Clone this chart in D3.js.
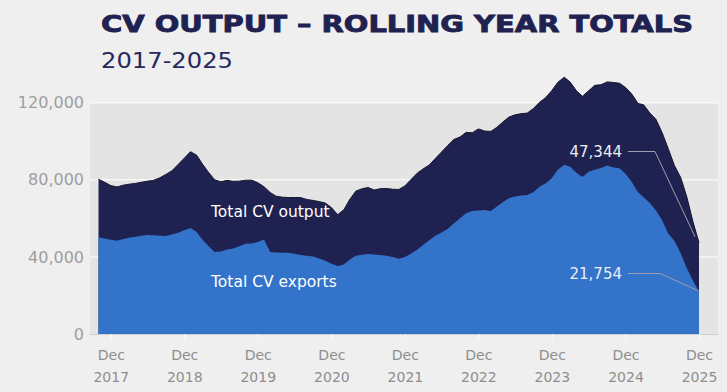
<!DOCTYPE html>
<html>
<head>
<meta charset="utf-8">
<script src="https://cdn.jsdelivr.net/npm/d3@7"></script>
<style>
  body { margin: 0; background: #efefef; }
  svg { display: block; }
</style>
</head>
<body>
<svg></svg>
<script>
// monthly rolling-year totals, Oct 2017 .. Dec 2025
const startMonth = new Date(2017, 9, 1)
const endMonth = new Date(2025, 11, 1)

const totalOutput = [
  80300, 78700, 77000, 76300, 77200, 77700, 78100, 78700, 79300, 79700,
  81000, 82800, 84700, 88000, 91200, 94600, 92700, 88200, 83800, 80000,
  79000, 79700, 79200, 79300, 79800, 79800, 78500, 76400, 73400, 71500,
  71000, 70800, 70800, 70800, 69800, 69300, 68700, 67900, 65600, 61900,
  64500, 69600, 74100, 75300, 76000, 74700, 75400, 75500, 75100, 75000,
  76800, 80200, 83500, 85600, 87700, 91000, 94400, 97700, 100900, 102200,
  104600, 104400, 106400, 105300, 105100, 107100, 109900, 112500, 113700, 114300,
  114600, 117000, 120200, 122700, 126300, 130700, 133200, 130700, 126200, 123300,
  126200, 129000, 129300, 130800, 130500, 130100, 127900, 124500, 119600, 118900,
  114600, 111400, 104400, 96200, 87400, 81200, 71300, 58200, 47344
]

const cvExports = [
  50200, 49500, 48900, 48400, 49300, 50000, 50500, 51000, 51300, 51200,
  51000, 50800, 51600, 52500, 53800, 55000, 52900, 49000, 45500, 42600,
  42800, 43800, 44400, 45500, 46800, 47000, 47700, 49000, 42600, 42300,
  42200, 42200, 41600, 41000, 40600, 40200, 39200, 38000, 36500, 35300,
  36000, 38500, 40600, 41100, 41500, 41200, 41000, 40600, 39900, 39100,
  39900, 41700, 43900, 46200, 48600, 51000, 52700, 54500, 57300, 60100,
  62600, 63800, 64100, 64300, 63800, 66000, 68300, 70400, 71400, 71800,
  72100, 73700, 76400, 78200, 80900, 85300, 87800, 86800, 83700, 81500,
  84200, 85200, 86100, 87400, 86400, 86000, 83100, 78800, 73500, 71000,
  67900, 64100, 59000, 52200, 48200, 41900, 34300, 27700, 21754
]

const yTicks = [0, 40000, 80000, 120000]
const tickYears = [2017, 2018, 2019, 2020, 2021, 2022, 2023, 2024, 2025]

const width = 727
const height = 392
const plot = {left: 90, right: 718, top: 102, bottom: 334}

const svg = d3.select('svg').attr('width', width).attr('height', height)

const months = d3.timeMonth.range(startMonth, d3.timeMonth.offset(endMonth, 1))
const rows = months.map((d, i) => ({date: d, output: totalOutput[i], exports: cvExports[i]}))

const x = d3.scaleTime().domain([startMonth, endMonth]).range([98.5, 699])
const y = d3.scaleLinear().domain([0, 120000]).range([plot.bottom, plot.top + 0.7])

// titles
svg.append('text')
  .attr('x', 101).attr('y', 32)
  .attr('font-family', 'DejaVu Sans').attr('font-weight', 900).attr('font-size', 23.5)
  .attr('fill', '#1f2250').attr('stroke', '#1f2250').attr('stroke-width', 0.9)
  .attr('textLength', 592).attr('lengthAdjust', 'spacingAndGlyphs')
  .text('CV OUTPUT – ROLLING YEAR TOTALS')

svg.append('text')
  .attr('x', 101).attr('y', 68)
  .attr('font-family', 'DejaVu Sans').attr('font-size', 21)
  .attr('fill', '#262a5c')
  .attr('textLength', 132).attr('lengthAdjust', 'spacingAndGlyphs')
  .text('2017-2025')

// plot background + grid
svg.append('rect')
  .attr('x', plot.left).attr('y', y(120000))
  .attr('width', plot.right - plot.left).attr('height', y(0) - y(120000))
  .attr('fill', '#e4e4e4')

svg.append('g').selectAll('line').data(yTicks.filter(d => d > 0)).enter().append('line')
  .attr('x1', plot.left).attr('x2', plot.right)
  .attr('y1', d => y(d)).attr('y2', d => y(d))
  .attr('stroke', '#f7f7f7').attr('stroke-width', 1.5)

// areas
const areaOut = d3.area().x(d => x(d.date)).y0(y(0)).y1(d => y(d.output))
const areaExp = d3.area().x(d => x(d.date)).y0(y(0)).y1(d => y(d.exports))

svg.append('path').datum(rows).attr('d', areaOut).attr('fill', '#1f2250')
svg.append('path').datum(rows)
  .attr('d', d3.line().x(d => x(d.date)).y(d => y(d.output)))
  .attr('fill', 'none').attr('stroke', '#15162e').attr('stroke-width', 1)
svg.append('path').datum(rows).attr('d', areaExp).attr('fill', '#3373c9')

// y axis
const yAxis = svg.append('g')
  .attr('transform', `translate(${plot.left},0)`)
  .call(d3.axisLeft(y).tickValues(yTicks).tickFormat(d3.format(',')).tickSize(0).tickPadding(6))
yAxis.select('.domain').remove()
yAxis.selectAll('text')
  .attr('font-family', 'DejaVu Sans').attr('font-size', 16).attr('fill', '#9e9e9e')

// x axis
svg.append('line')
  .attr('x1', plot.left).attr('x2', plot.right)
  .attr('y1', y(0) + 0.5).attr('y2', y(0) + 0.5)
  .attr('stroke', '#cfcfcf')

const xAxis = svg.append('g')
  .attr('transform', `translate(0,${y(0)})`)
  .call(d3.axisBottom(x).tickValues(tickYears.map(yr => new Date(yr, 11, 1))).tickSize(6).tickFormat(''))
xAxis.select('.domain').remove()
xAxis.selectAll('.tick line').attr('stroke', '#fafafa')

const xl = xAxis.selectAll('.tick').append('text')
  .attr('font-family', 'DejaVu Sans').attr('font-size', 14).attr('fill', '#8e8e8e')
  .attr('text-anchor', 'middle')
xl.append('tspan').attr('x', 0).attr('y', 26).text('Dec')
xl.append('tspan').attr('x', 0).attr('y', 48).text(d => d.getFullYear())

// series labels
svg.append('text').attr('x', 211).attr('y', 217)
  .attr('font-family', 'DejaVu Sans').attr('font-size', 15.5).attr('fill', '#ffffff')
  .text('Total CV output')
svg.append('text').attr('x', 211).attr('y', 287)
  .attr('font-family', 'DejaVu Sans').attr('font-size', 15.5).attr('fill', '#ffffff')
  .text('Total CV exports')

// end-value callouts
const last = rows[rows.length - 1]
const callouts = [
  {value: last.output, ty: 151.5, bend: 655, ex: x(last.date) - 4, ey: y(last.output) - 6},
  {value: last.exports, ty: 273.5, bend: 660, ex: x(last.date), ey: y(last.exports) - 1}
]
callouts.forEach(c => {
  svg.append('path')
    .attr('d', `M628,${c.ty}L${c.bend},${c.ty}L${c.ex},${c.ey}`)
    .attr('fill', 'none').attr('stroke', '#9d9fae').attr('stroke-width', 1)
  svg.append('text')
    .attr('x', 622).attr('y', c.ty + 5.5)
    .attr('text-anchor', 'end')
    .attr('font-family', 'DejaVu Sans').attr('font-size', 15).attr('fill', '#eceef5')
    .text(d3.format(',')(c.value))
})
</script>
</body>
</html>
